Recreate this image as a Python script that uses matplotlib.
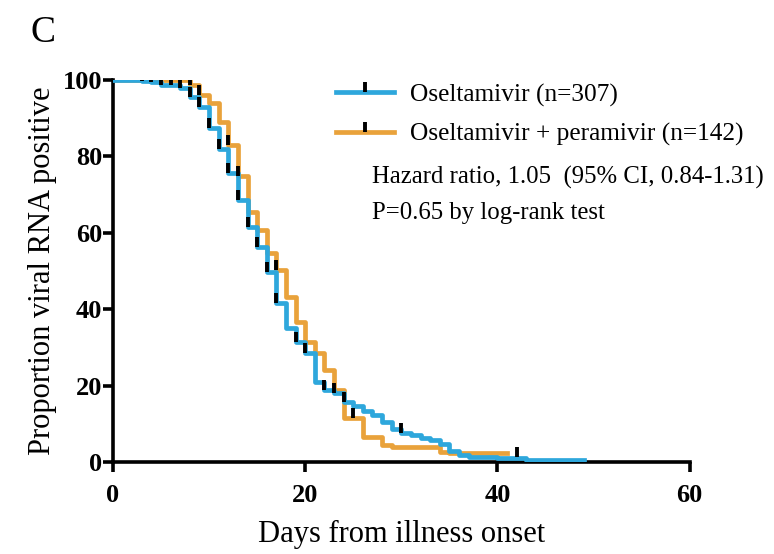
import matplotlib
matplotlib.use("Agg")
import matplotlib.pyplot as plt
from matplotlib.path import Path
from matplotlib.lines import Line2D

# Kaplan-Meier curves (day, % still positive)
osel_days = [0, 3, 4, 5, 7, 8, 9, 10, 11, 12, 13, 14, 15, 16, 17, 18, 19, 20, 21, 22, 23,
             24, 25, 26, 27, 28, 29, 30, 31, 32, 33, 34, 35, 36, 37, 40, 43, 49]
osel_vals = [100, 99.7, 99.3, 98.7, 97.8, 95.6, 93, 87.4, 82, 75.6, 68.6, 61.5, 56.3, 49.7, 41.6,
             35.1, 31.5, 28.5, 21, 18.8, 18.0, 15.8, 14.6, 13.4, 12.2, 10.5, 8.6, 7.5, 7.0, 6.4,
             5.8, 4.7, 3.0, 1.8, 1.4, 1.0, 0.65, 0.65]

combo_days = [0, 8, 9, 10, 11, 12, 13, 14, 15, 16, 17, 18, 19, 20, 21, 22, 23, 24, 26, 28, 29,
              34, 35, 41]
combo_vals = [100, 98.7, 96, 94, 89, 83, 74.7, 65.5, 60.7, 54.7, 50.3, 43.3, 36.7, 31.5, 28.5,
              24.1, 18.8, 11.4, 6.6, 4.5, 4.0, 2.7, 2.3, 2.3]

# censored observations
osel_cens_days = [2, 3, 4, 5, 6, 7, 8, 9, 10, 11, 12, 13, 14, 15, 16, 17, 19, 20, 22, 23, 24, 30, 42]
osel_cens_vals = [100, 99.7, 99.3, 98.7, 98.7, 97.8, 95.6, 93, 87.4, 82, 75.6, 68.6, 61.5, 56.3,
                  49.7, 41.6, 31.5, 28.5, 18.8, 18.0, 15.8, 7.5, 1.4]
combo_cens_days = [6, 7, 8, 9, 12, 13, 17, 25]
combo_cens_vals = [100, 100, 98.7, 96, 83, 74.7, 50.3, 11.4]

blue = "#2EA7DC"
orange = "#E9A23B"
tick_mark = Path([(0, 0), (0, 1)])

plt.rcParams["font.family"] = ["Liberation Serif", "DejaVu Serif"]

fig = plt.figure(figsize=(7.74, 5.54), dpi=100)
ax = fig.add_axes([0.146, 0.166, 0.745, 0.69])

ax.step(osel_days, osel_vals, where="post", color=blue, lw=3.4, zorder=3)
ax.step(combo_days, combo_vals, where="post", color=orange, lw=3.4, zorder=2)
ax.plot(osel_cens_days, osel_cens_vals, ls="none", marker=tick_mark, ms=14, mew=2.8,
        mec="black", zorder=4)
ax.plot(combo_cens_days, combo_cens_vals, ls="none", marker=tick_mark, ms=14, mew=2.8,
        mec="black", zorder=4)

ax.set_xlim(0, 60)
ax.set_ylim(0, 100)
ax.set_xticks([0, 20, 40, 60])
ax.set_yticks([0, 20, 40, 60, 80, 100])
for s in ["top", "right"]:
    ax.spines[s].set_visible(False)
for s in ["left", "bottom"]:
    ax.spines[s].set_linewidth(2.6)
ax.tick_params(width=2.6, length=7, labelsize=19, direction="out")
ax.tick_params(axis="y", pad=1)
ax.tick_params(axis="x", pad=9)
for lab in ax.get_xticklabels() + ax.get_yticklabels():
    lab.set_fontweight("bold")
ax.set_xlabel("Days from illness onset", fontsize=22, labelpad=9)
ax.set_ylabel("Proportion viral RNA positive", fontsize=22, labelpad=4)

handles = [
    Line2D([], [], color=blue, lw=3.4, marker=tick_mark, ms=14, mew=2.8, mec="black"),
    Line2D([], [], color=orange, lw=3.4, marker=tick_mark, ms=14, mew=2.8, mec="black"),
]
ax.legend(handles, ["Oseltamivir (n=307)", "Oseltamivir + peramivir (n=142)"],
          loc="upper left", bbox_to_anchor=(0.347, 1.05), frameon=False, fontsize=18.3,
          handlelength=2.3, handletextpad=0.6, labelspacing=0.65, numpoints=1)

ax.text(0.45, 0.745, "Hazard ratio, 1.05  (95% CI, 0.84-1.31)", transform=ax.transAxes,
        fontsize=17.8, va="center", ha="left")
ax.text(0.45, 0.652, "P=0.65 by log-rank test", transform=ax.transAxes,
        fontsize=17.8, va="center", ha="left")

fig.text(0.04, 0.94, "C", fontsize=27, va="center", ha="left")

fig.savefig("out.png", dpi=100)
